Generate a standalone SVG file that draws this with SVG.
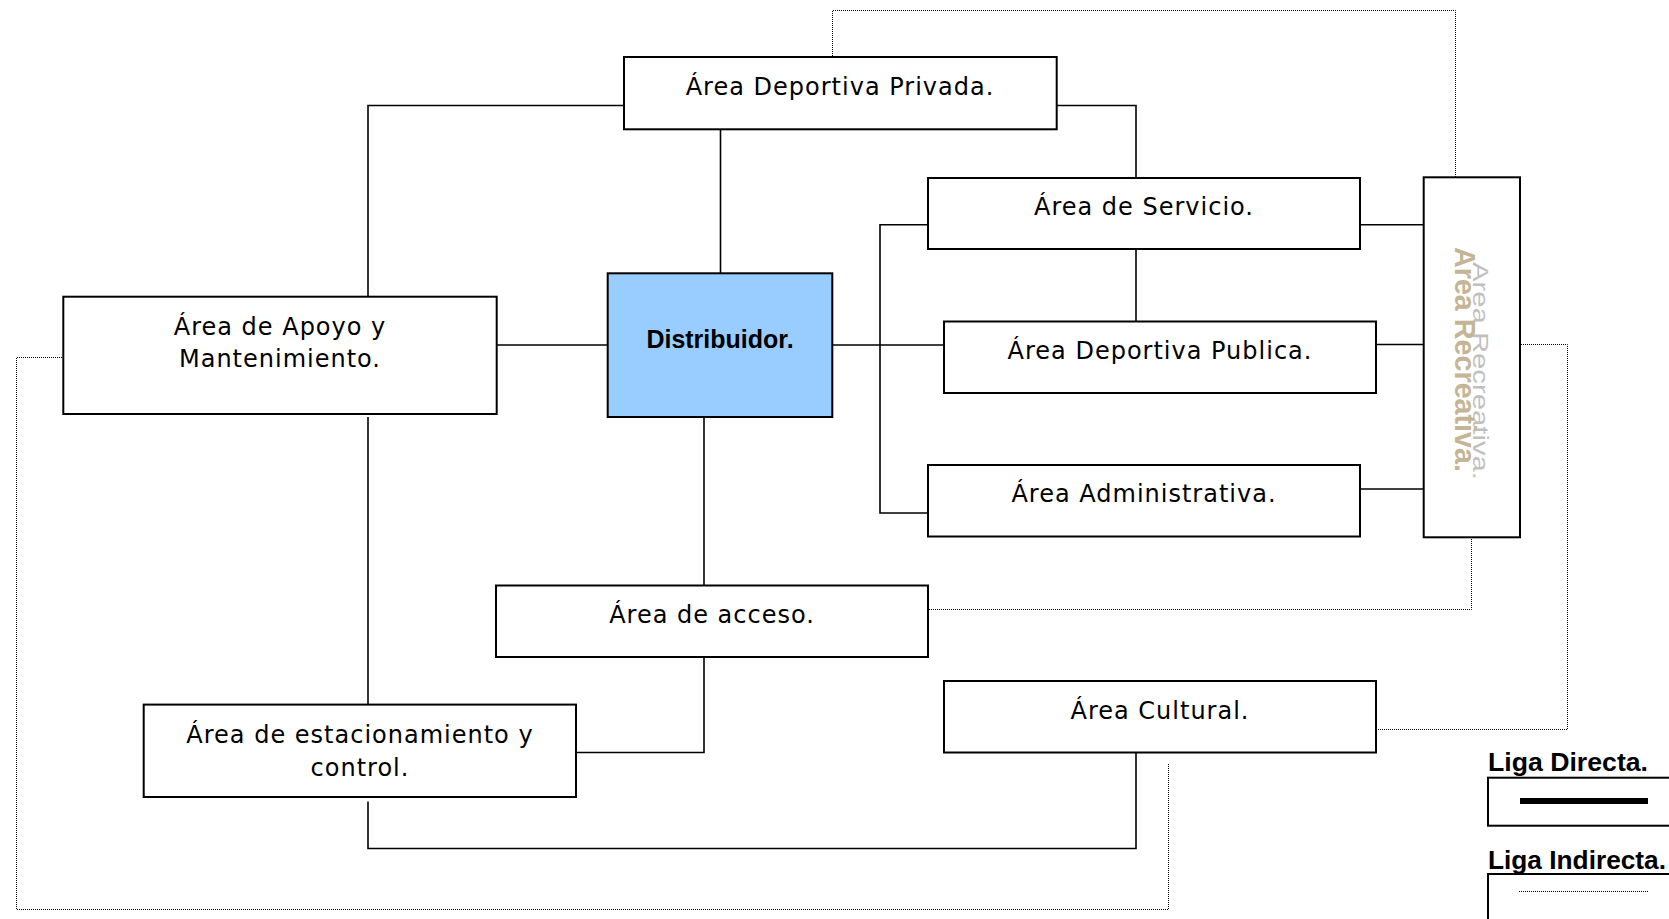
<svg xmlns="http://www.w3.org/2000/svg" width="1669" height="919" viewBox="0 0 1669 919">
<style>
.box{fill:#fff;stroke:#000;stroke-width:2}
.dist{fill:#99CCFF;stroke:#000;stroke-width:2}
.t{font-family:"DejaVu Sans",sans-serif;font-size:24px;letter-spacing:1px;fill:#000;text-anchor:middle}
.tb{font-family:"Liberation Sans",Arial,sans-serif;font-weight:bold;font-size:25px;fill:#000;text-anchor:middle}
.solid{fill:none;stroke:#000;stroke-width:1.6}
.dot{fill:none;stroke:#000;stroke-width:1;stroke-dasharray:1 1}
.leg{font-family:"Liberation Sans",Arial,sans-serif;font-weight:bold;font-size:25px;fill:#000}
</style>
<rect width="1669" height="919" fill="#fff"/>
<g id="connectors">
<path class="solid" d="M624 105.5H368V296.7"/>
<path class="solid" d="M1056.7 105.5H1136V178"/>
<path class="solid" d="M720.5 129.3V273.3"/>
<path class="solid" d="M496.7 345H607.7"/>
<path class="solid" d="M832.3 345H944"/>
<path class="solid" d="M928 224.8H880V513H928"/>
<path class="solid" d="M1136 249V321.5"/>
<path class="solid" d="M1360 224.8H1423.7"/>
<path class="solid" d="M1376 344.5H1423.7"/>
<path class="solid" d="M1360 489H1423.7"/>
<path class="solid" d="M704 417V585.5"/>
<path class="solid" d="M704 657V752.5H576"/>
<path class="solid" d="M368 417V704.6"/>
<path class="solid" d="M368 801.5V848.5H1136V752.5"/>
<path class="dot" d="M832.5 56V10.5H1455.5V177"/>
<path class="dot" d="M1521 344.5H1567.5V729.5H1377"/>
<path class="dot" d="M929 609.5H1471.5V539"/>
<path class="dot" d="M62 357.5H16.5V909.5H1168.5V764"/>
</g>
<g id="privada">
<rect class="box" x="624" y="57" width="432.7" height="72.3"/>
<text class="t" x="840" y="95">Área Deportiva Privada.</text>
</g>
<g id="distribuidor">
<rect class="dist" x="607.7" y="273.3" width="224.6" height="143.7"/>
<text class="tb" x="720" y="348.3">Distribuidor.</text>
</g>
<g id="apoyo">
<rect class="box" x="63.3" y="296.7" width="433.4" height="117.3"/>
<text class="t" x="280" y="335">Área de Apoyo y</text>
<text class="t" x="280" y="367.3">Mantenimiento.</text>
</g>
<g id="servicio">
<rect class="box" x="928" y="178" width="432" height="71"/>
<text class="t" x="1144" y="215">Área de Servicio.</text>
</g>
<g id="publica">
<rect class="box" x="944" y="321.5" width="432" height="71.5"/>
<text class="t" x="1160" y="358.5">Área Deportiva Publica.</text>
</g>
<g id="administrativa">
<rect class="box" x="928" y="465" width="432" height="71.5"/>
<text class="t" x="1144" y="502">Área Administrativa.</text>
</g>
<g id="recreativa">
<rect class="box" x="1423.7" y="177.3" width="96.3" height="360"/>
<text transform="translate(1473,262) rotate(90)" font-family="Liberation Sans,Arial,sans-serif" font-size="22" fill="#C0C0C0" textLength="218" lengthAdjust="spacingAndGlyphs">Area Recreativa.</text>
<text transform="translate(1455,247) rotate(90)" font-family="Liberation Sans,Arial,sans-serif" font-weight="bold" font-size="30" fill="#C4B596" textLength="225" lengthAdjust="spacingAndGlyphs">Area Recreativa.</text>
</g>
<g id="acceso">
<rect class="box" x="496" y="585.5" width="432" height="71.5"/>
<text class="t" x="712" y="623">Área de acceso.</text>
</g>
<g id="cultural">
<rect class="box" x="944" y="681" width="432" height="71.5"/>
<text class="t" x="1160" y="719">Área Cultural.</text>
</g>
<g id="estacionamiento">
<rect class="box" x="143.7" y="704.6" width="432.3" height="92.4"/>
<text class="t" x="360" y="743">Área de estacionamiento y</text>
<text class="t" x="360" y="776">control.</text>
</g>
<g id="legend">
<text class="leg" x="1488" y="770.7" textLength="160" lengthAdjust="spacingAndGlyphs">Liga Directa.</text>
<rect class="box" x="1488" y="777.7" width="200" height="48"/>
<line x1="1520" y1="801" x2="1648" y2="801" stroke="#000" stroke-width="6"/>
<text class="leg" x="1488" y="869" textLength="178" lengthAdjust="spacingAndGlyphs">Liga Indirecta.</text>
<rect class="box" x="1488" y="874" width="200" height="80"/>
<line class="dot" x1="1519" y1="891.5" x2="1649" y2="891.5"/>
</g>
</svg>
